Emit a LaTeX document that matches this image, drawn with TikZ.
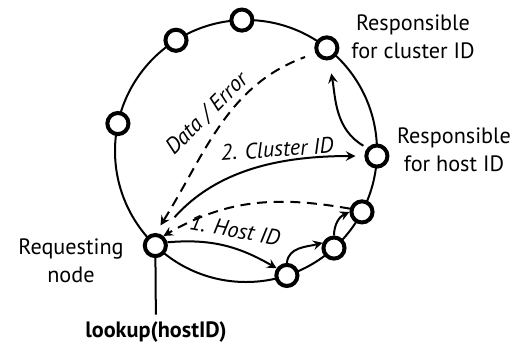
\documentclass[tikz,border=0pt]{standalone}
\usepackage{fontspec}
\setmainfont{PT Sans}
\usepackage{tikz}
\usetikzlibrary{positioning,arrows}

\begin{document}
\begin{tikzpicture}[
    x=0.45pt, y=0.45pt,
    font=\fontsize{10}{12.6}\selectfont,
    peer/.style={draw, circle, line width=1.8pt, minimum size=9.5pt, inner sep=0pt, fill=white},
    line/.style={draw, ->, >=stealth, line width=0.9pt},
    dline/.style={line, dash pattern=on 4.5pt off 3pt},
    lbl/.style={align=center, inner sep=0pt},
    msg/.style={font=\fontsize{10}{12}\selectfont\itshape, inner sep=0pt}
]
    \useasboundingbox (0,0) rectangle (523,347);

    % Ring
    \coordinate (ctr) at (246,196);
    \draw[line width=0.9pt] (ctr) circle[radius=131];

    % Peers on the ring
    \node[peer] (req) at ([shift={(-133.8:131)}]ctr) {};
    \node[peer] (p1) at ([shift={(167.9:131)}]ctr) {};
    \node[peer] (p2) at ([shift={(122.3:131)}]ctr) {};
    \node[peer] (p3) at ([shift={(91.8:131)}]ctr) {};
    \node[peer] (clu) at ([shift={(51.9:131)}]ctr) {};
    \node[peer] (host) at ([shift={(-2.2:131)}]ctr) {};
    \node[peer] (p6) at ([shift={(-27.7:131)}]ctr) {};
    \node[peer] (p7) at ([shift={(-47.8:131)}]ctr) {};
    \node[peer] (p8) at ([shift={(-71.8:131)}]ctr) {};

    % Labels
    \node[lbl] (reqlbl) at (71,86) {Requesting\\node};
    \node[lbl] (clulbl) at (413,310) {Responsible\\for cluster ID};
    \node[lbl] (hostlbl) at (454,197) {Responsible\\for host ID};
    \node[lbl] (lookup) at (156,15) {\bfseries lookup(hostID)};
    \draw[line width=0.9pt, shorten >=3pt] (req) -- (lookup);

    % Messages
    \draw[line] (req.15) to[out=5, in=150] (p8.145);
    \draw[line] (p8.north) to[out=85, in=195] (p7.155);
    \draw[line] (p7.north) to[out=90, in=205] (p6.west);
    \draw[dline] (p6.165) to[out=170, in=30] (req.50);
    \draw[line, shorten <=10pt, shorten >=4pt] (req.70) to[out=48, in=180] (host);
    \draw[dline, <-, shorten <=4pt, shorten >=5pt] (req.88) to[out=58, in=200] (clu.205);
    \draw[line, shorten <=2pt, shorten >=6pt] (host.140) to[out=150, in=-80] (clu);

    \node[msg, rotate=-10] (hostmsg) at (235,117) {1. Host ID};
    \node[msg, rotate=4] (clumsg) at (277,198) {2. Cluster ID};
    \node[msg, rotate=45] (datamsg) at (207,233) {Data / Error};
\end{tikzpicture}
\end{document}
